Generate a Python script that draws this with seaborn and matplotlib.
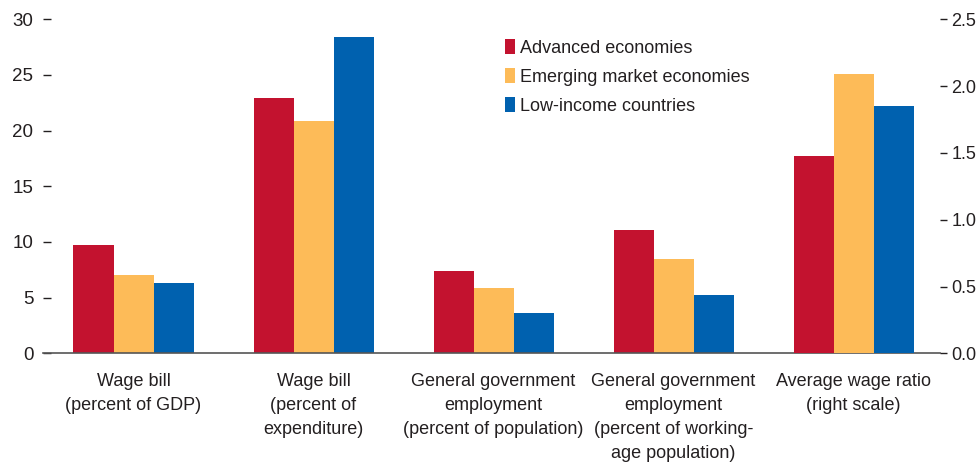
import matplotlib

matplotlib.use("Agg")

import matplotlib.pyplot as plt
import pandas as pd
import seaborn as sns
from matplotlib.font_manager import fontManager
from matplotlib.ticker import FormatStrFormatter, MultipleLocator

CATEGORIES = [
    "Wage bill\n(percent of GDP)",
    "Wage bill\n(percent of\nexpenditure)",
    "General government\nemployment\n(percent of population)",
    "General government\nemployment\n(percent of working-\nage population)",
    "Average wage ratio\n(right scale)",
]
GROUPS = ["Advanced economies", "Emerging market economies", "Low-income countries"]
ADVANCED = [9.7, 22.9, 7.4, 11.1, 1.48]
EMERGING = [7.0, 20.9, 5.9, 8.5, 2.09]
LOW_INCOME = [6.35, 28.4, 3.6, 5.2, 1.85]
RIGHT_SCALE_CATEGORY = CATEGORIES[-1]

COLORS = ["#C3122F", "#FDBB58", "#0061AF"]
TEXT_COLOR = "#231F20"

names = {f.name for f in fontManager.ttflist}
family = "Liberation Sans Narrow" if "Liberation Sans Narrow" in names else "Liberation Sans"

sns.set_style("white")
plt.rcParams["font.family"] = [family, "DejaVu Sans"]
plt.rcParams["font.size"] = 13

rows = []
for group, values in zip(GROUPS, [ADVANCED, EMERGING, LOW_INCOME]):
    for category, value in zip(CATEGORIES, values):
        rows.append({"category": category, "group": group, "value": value})
df = pd.DataFrame(rows)
left_df = df[df["category"] != RIGHT_SCALE_CATEGORY]
right_df = df[df["category"] == RIGHT_SCALE_CATEGORY]

fig = plt.figure(figsize=(9.79, 4.66), dpi=100)
ax = fig.add_axes([0.0439, 0.2418, 0.9163, 0.7168])
ax2 = ax.twinx()

common = dict(
    x="category",
    y="value",
    hue="group",
    order=CATEGORIES,
    hue_order=GROUPS,
    palette=COLORS,
    width=0.667,
    saturation=1,
    errorbar=None,
    linewidth=0,
)
sns.barplot(data=left_df, ax=ax, **common)
sns.barplot(data=right_df, ax=ax2, legend=False, **common)

ax.set_xlim(-0.503, 4.48)
ax.set_ylim(0, 30)
ax2.set_ylim(0, 2.5)
ax.yaxis.set_major_locator(MultipleLocator(5))
ax2.yaxis.set_major_locator(MultipleLocator(0.5))
ax2.yaxis.set_major_formatter(FormatStrFormatter("%.1f"))

ax.set_xlabel("")
ax.set_ylabel("")
ax2.set_ylabel("")
ax.set_xticks(range(len(CATEGORIES)))
ax.set_xticklabels(CATEGORIES, linespacing=1.55, color=TEXT_COLOR)
ax.tick_params(axis="x", length=0, pad=14, labelsize=13)
ax.tick_params(axis="y", direction="in", length=6, width=1, pad=7,
               labelsize=13.5, colors=TEXT_COLOR)
ax2.tick_params(axis="y", direction="out", length=5, width=1, pad=3,
                labelsize=13, colors=TEXT_COLOR)

for spine in ["left", "top", "right"]:
    ax.spines[spine].set_visible(False)
for spine in ax2.spines.values():
    spine.set_visible(False)
ax.spines["bottom"].set_color("#555555")
ax.spines["bottom"].set_linewidth(1.2)

handles, labels = ax.get_legend_handles_labels()
ax.legend(
    handles,
    labels,
    loc="upper left",
    bbox_to_anchor=(505 / 979, 1 - 39 / 466),
    bbox_transform=fig.transFigure,
    frameon=False,
    handlelength=0.55,
    handleheight=0.9,
    handletextpad=0.3,
    borderpad=0,
    borderaxespad=0,
    labelspacing=0.62,
    fontsize=13,
    labelcolor=TEXT_COLOR,
)

fig.savefig("out.png", dpi=100)
